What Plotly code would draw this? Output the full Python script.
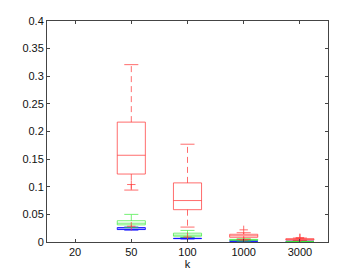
import plotly.graph_objects as go

categories = ["20", "50", "100", "1000", "3000"]

# red series: box stats per category (None = no data)
red_lo  = [None, 0.094, 0.027, 0.0045, 0.0030]
red_q1  = [None, 0.123, 0.0585, 0.0085, 0.0036]
red_med = [None, 0.157, 0.075, 0.0112, 0.0048]
red_q3  = [None, 0.217, 0.107, 0.0140, 0.0060]
red_hi  = [None, 0.321, 0.177, 0.0168, 0.0072]
red_out = [[], [0.104, 0.0285], [0.009], [0.022, 0.0035], [0.0078, 0.0068]]

# green series
green_lo  = [None, 0.026, 0.0085, 0.0015, 0.0005]
green_q1  = [None, 0.031, 0.0105, 0.0030, 0.0008]
green_med = [None, 0.034, 0.0125, 0.0038, 0.0010]
green_q3  = [None, 0.0385, 0.0160, 0.0048, 0.0013]
green_hi  = [None, 0.050, 0.0210, 0.0060, 0.0018]
green_out = [[], [], [], [], []]

# blue series
blue_lo  = [None, 0.0215, 0.0055, 0.0010, 0.0008]
blue_q1  = [None, 0.0225, 0.0062, 0.0014, 0.0010]
blue_med = [None, 0.0235, 0.0067, 0.0018, 0.0014]
blue_q3  = [None, 0.0262, 0.0072, 0.0022, 0.0018]
blue_hi  = [None, 0.0270, 0.0078, 0.0026, 0.0022]
blue_out = [[], [], [], [], []]

y_ticks = [0, 0.05, 0.1, 0.15, 0.2, 0.25, 0.3, 0.35, 0.4]

HALF = 0.25
CAP = 0.125

fig = go.Figure()

def add_series(lo, q1, med, q3, hi, outs, color):
    sx, sy, dx, dy, ox, oy = [], [], [], [], [], []
    for i in range(len(categories)):
        if q1[i] is None:
            continue
        sx += [i - HALF, i + HALF, i + HALF, i - HALF, i - HALF, None]
        sy += [q1[i], q1[i], q3[i], q3[i], q1[i], None]
        sx += [i - HALF, i + HALF, None]
        sy += [med[i], med[i], None]
        sx += [i - CAP, i + CAP, None, i - CAP, i + CAP, None]
        sy += [hi[i], hi[i], None, lo[i], lo[i], None]
        dx += [i, i, None, i, i, None]
        dy += [q3[i], hi[i], None, q1[i], lo[i], None]
        for v in outs[i]:
            ox.append(i)
            oy.append(v)
    fig.add_trace(go.Scatter(x=dx, y=dy, mode="lines",
                             line=dict(color=color, width=1, dash="6px,4px"),
                             hoverinfo="skip", showlegend=False))
    fig.add_trace(go.Scatter(x=sx, y=sy, mode="lines",
                             line=dict(color=color, width=1),
                             hoverinfo="skip", showlegend=False))
    if ox:
        fig.add_trace(go.Scatter(x=ox, y=oy, mode="markers",
                                 marker=dict(symbol="cross-thin", size=6,
                                             line=dict(color=color, width=1)),
                                 hoverinfo="skip", showlegend=False))

add_series(blue_lo, blue_q1, blue_med, blue_q3, blue_hi, blue_out, "rgba(20,20,255,0.9)")
add_series(green_lo, green_q1, green_med, green_q3, green_hi, green_out, "rgba(60,235,60,0.7)")
add_series(red_lo, red_q1, red_med, red_q3, red_hi, red_out, "rgba(255,60,60,0.75)")

FONT = dict(family="Liberation Sans, Arial", size=11, color="#111")
axis_common = dict(showline=True, linecolor="#444", linewidth=1, mirror="ticks",
                   ticks="inside", ticklen=3, tickcolor="#444", showgrid=False,
                   zeroline=False, automargin=False, tickfont=FONT)

fig.update_layout(
    width=362, height=273,
    margin=dict(l=47, r=34, t=21, b=31, autoexpand=False),
    paper_bgcolor="white", plot_bgcolor="white",
    xaxis=dict(range=[-0.5, 4.5], tickvals=list(range(len(categories))), ticktext=categories,
               title=dict(text="k", font=FONT, standoff=2),
               **axis_common),
    yaxis=dict(range=[0, 0.4], tickvals=y_ticks, ticktext=[("%g" % v) for v in y_ticks],
               **axis_common),
)

fig.write_html("out.html", config={"displayModeBar": False},
               post_script="document.body.style.margin='0';document.body.style.overflow='hidden';")
